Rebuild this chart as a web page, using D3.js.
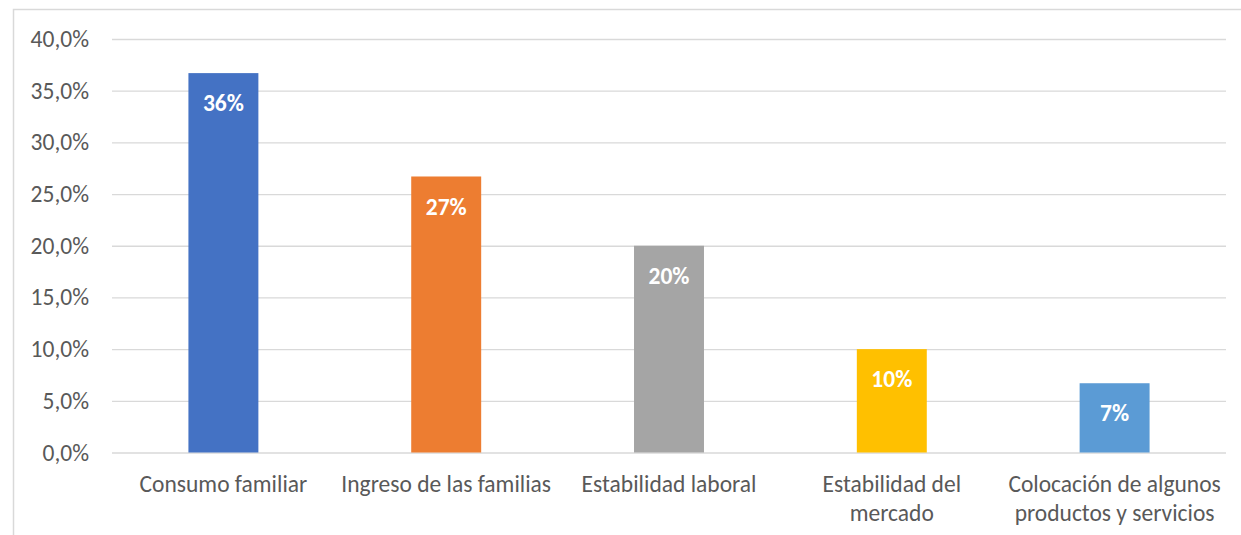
<!DOCTYPE html>
<html>
<head>
<meta charset="utf-8">
<script src="https://cdn.jsdelivr.net/npm/d3@7"></script>
<style>
  body { margin: 0; background: #fff; }
  svg { display: block; font-family: Carlito, Lato, "Liberation Sans", sans-serif; }
</style>
</head>
<body>
<script>
var categories = [
  ["Consumo familiar"],
  ["Ingreso de las familias"],
  ["Estabilidad laboral"],
  ["Estabilidad del", "mercado"],
  ["Colocación de algunos", "productos y servicios"]
];
var values = [36.7, 26.7, 20.0, 10.0, 6.7];
var valueLabels = ["36%", "27%", "20%", "10%", "7%"];
var colors = ["#4472c4", "#ed7d31", "#a5a5a5", "#ffc000", "#5b9bd5"];
var yTicks = [0, 5, 10, 15, 20, 25, 30, 35, 40];

var width = 1241, height = 535;
var margin = {top: 39, right: 15, bottom: 82.5, left: 112};
var fontSize = "23.5px";

var svg = d3.select("body").append("svg")
    .attr("width", width)
    .attr("height", height);

// chart frame
svg.append("path")
    .attr("d", "M13.5,535 V9.5 H1241")
    .attr("fill", "none")
    .attr("stroke", "#d9d9d9")
    .attr("stroke-width", 1.5);

var x = d3.scaleBand()
    .domain(d3.range(categories.length))
    .range([margin.left, width - margin.right])
    .paddingInner(0.686)
    .paddingOuter(0.343);

var y = d3.scaleLinear()
    .domain([0, 40])
    .range([height - margin.bottom, margin.top]);

// gridlines
var yAxis = d3.axisLeft(y)
    .tickValues(yTicks)
    .tickSize(-(width - margin.right - margin.left))
    .tickPadding(23)
    .tickFormat(function(d){ return d.toFixed(1).replace(".", ",") + "%"; });

var gy = svg.append("g")
    .attr("transform", "translate(" + margin.left + ",0)")
    .call(yAxis);
gy.select(".domain").remove();
gy.selectAll(".tick line").attr("stroke", "#d9d9d9").attr("stroke-width", 1.3);
gy.selectAll(".tick text")
    .attr("fill", "#595959")
    .attr("font-size", fontSize)
    .attr("font-family", "Carlito, Lato, 'Liberation Sans', sans-serif");

// bars
svg.selectAll(".bar")
    .data(values)
    .enter().append("rect")
    .attr("class", "bar")
    .attr("x", function(d, i){ return x(i); })
    .attr("y", function(d){ return y(d); })
    .attr("width", x.bandwidth())
    .attr("height", function(d){ return y(0) - y(d); })
    .attr("fill", function(d, i){ return colors[i]; });

// data labels
svg.selectAll(".vlabel")
    .data(values)
    .enter().append("text")
    .attr("class", "vlabel")
    .attr("x", function(d, i){ return x(i) + x.bandwidth() / 2; })
    .attr("y", function(d){ return y(d) + 30; })
    .attr("dy", "0.35em")
    .attr("text-anchor", "middle")
    .attr("fill", "#fff")
    .attr("font-weight", "bold")
    .attr("font-size", fontSize)
    .text(function(d, i){ return valueLabels[i]; });

// category labels
var cat = svg.selectAll(".cat")
    .data(categories)
    .enter().append("text")
    .attr("class", "cat")
    .attr("text-anchor", "middle")
    .attr("fill", "#595959")
    .attr("font-size", fontSize)
    .attr("x", function(d, i){ return x(i) + x.bandwidth() / 2; })
    .attr("y", y(0) + 31);

cat.selectAll("tspan")
    .data(function(d){ return d; })
    .enter().append("tspan")
    .attr("x", function(){ return this.parentNode.getAttribute("x"); })
    .attr("dy", function(d, i){ return i === 0 ? "0.35em" : "29px"; })
    .text(function(d){ return d; });
</script>
</body>
</html>
